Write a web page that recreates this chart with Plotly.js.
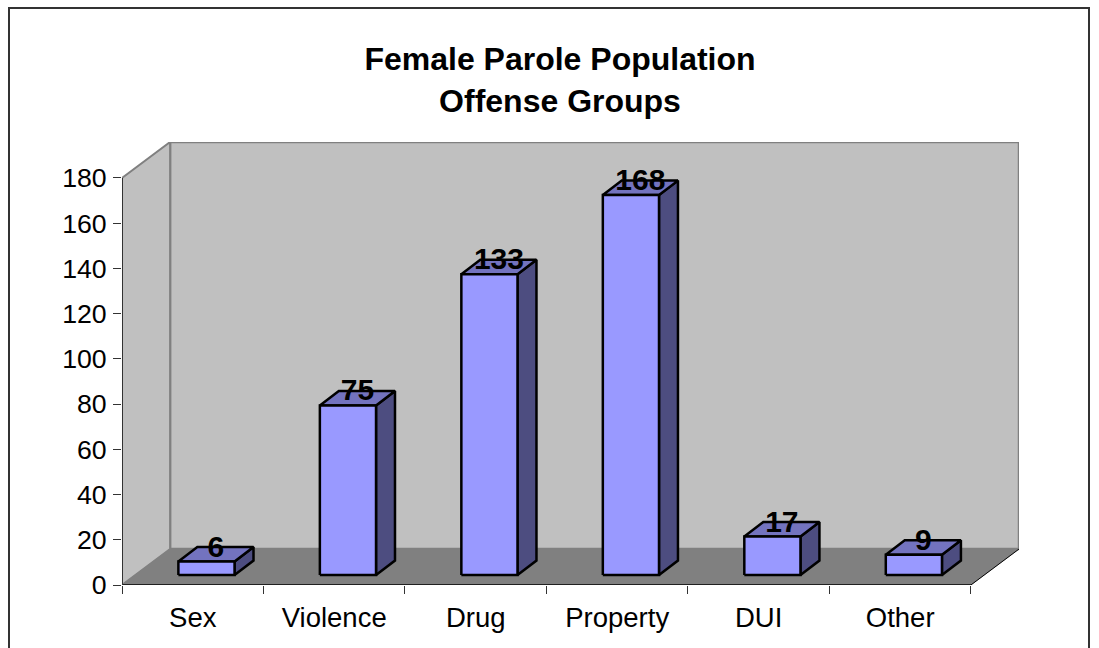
<!DOCTYPE html>
<html><head><meta charset="utf-8">
<script src="https://cdn.plot.ly/plotly-3.0.1.min.js"></script>
<style>html,body{margin:0;padding:0;background:#fff}#c{width:1099px;height:648px}</style>
</head><body><div id="c"></div>
<script>
const categories = ["Sex","Violence","Drug","Property","DUI","Other"];
const values = [6,75,133,168,17,9];
const yTicks = [0,20,40,60,80,100,120,140,160,180];
const titleLines = ["Female Parole Population","Offense Groups"];

const FONT = '"Liberation Sans", Arial, sans-serif';
const n = categories.length, yMax = yTicks[yTicks.length-1];
// 3D projection, in axis units
const wallDx = 0.34, wallDy = 15.9;      // depth of the whole chart box
const barDx = 0.134, barDy = 6.4;        // depth of one bar
const barW = 0.397, barShiftX = 0.097, barShiftY = 4.42; // bar placement on floor

function poly(xs, ys, fill, lineColor, lineWidth){
  return {type:'scatter',mode:'lines',x:xs,y:ys,fill:'toself',fillcolor:fill,
    line:{color:lineColor,width:lineWidth,shape:'linear'},hoverinfo:'skip',showlegend:false,cliponaxis:false};
}
function seg(xs, ys, color, width){
  return {type:'scatter',mode:'lines',x:xs,y:ys,line:{color:color,width:width},hoverinfo:'skip',showlegend:false,cliponaxis:false};
}
const GRAY='#808080', WALL='#c0c0c0';
const traces = [
  poly([wallDx,n+wallDx,n+wallDx,wallDx,wallDx],[wallDy,wallDy,yMax+wallDy,yMax+wallDy,wallDy],WALL,GRAY,2.5),
  poly([0,wallDx,wallDx,0,0],[0,wallDy,yMax+wallDy,yMax,0],WALL,GRAY,2),
  poly([0,n,n+wallDx,wallDx,0],[0,0,wallDy,wallDy,0],GRAY,GRAY,0.5),
  seg([n,n+wallDx],[0,wallDy],'#000',1),
  seg([0,n],[0,0],'#000',1.5),
  seg([0,0],[0,yMax],'#333',2)
];
const join=(f)=>values.flatMap((v,i)=>[...f(v,i),null]);
const L=i=>i+0.5+barShiftX-barW/2, R=i=>L(i)+barW, B=barShiftY;
const OUT='#000', OW=2.5;
traces.push(poly(
  join((v,i)=>[R(i),R(i)+barDx,R(i)+barDx,R(i),R(i)]),
  join((v,i)=>[B,B+barDy,B+v+barDy,B+v,B]),'#4d4d80',OUT,OW));
traces.push(poly(
  join((v,i)=>[L(i),R(i),R(i)+barDx,L(i)+barDx,L(i)]),
  join((v,i)=>[B+v,B+v,B+v+barDy,B+v+barDy,B+v]),'#7373bf',OUT,OW));
traces.push(poly(
  join((v,i)=>[L(i),R(i),R(i),L(i),L(i)]),
  join((v,i)=>[B,B,B+v,B+v,B]),'#9999ff',OUT,OW));
traces.push({type:'scatter',mode:'text',
  x:values.map((v,i)=>L(i)+barW/2+barDx/2),
  y:values.map(v=>B+v+barDy-0.9),
  text:values.map(String),textposition:'middle center',
  textfont:{family:FONT,size:30,color:'#000',weight:700},
  hoverinfo:'skip',showlegend:false,cliponaxis:false});

const W=1099,H=648,ml=122,mr=80,mt=142,mb=63, pw=W-ml-mr, ph=H-mt-mb;
const layout = {
  width:W,height:H,margin:{l:ml,r:mr,t:mt,b:mb,pad:0},
  paper_bgcolor:'#fff',plot_bgcolor:'rgba(0,0,0,0)',showlegend:false,hovermode:false,
  font:{family:FONT,color:'#000'},
  title:{text:'<b>'+titleLines.join('<br>')+'</b>',font:{family:FONT,size:32,color:'#000'},
    x:560/W,xanchor:'center',y:1-70/H,yanchor:'top'},
  xaxis:{range:[0,n+wallDx],fixedrange:true,showgrid:false,zeroline:false,showline:false,
    tickmode:'array',tickvals:categories.map((c,i)=>i+0.5),ticktext:categories,ticks:'',
    ticklabelstandoff:13,tickfont:{family:FONT,size:27.5,color:'#000'},
    minor:{tickmode:'array',tickvals:categories.map((c,i)=>i).concat([n]),ticks:'outside',ticklen:8,tickwidth:1,tickcolor:'#333',showgrid:false}},
  yaxis:{range:[0,yMax+wallDy],fixedrange:true,showgrid:false,zeroline:false,showline:false,
    tickmode:'array',tickvals:yTicks,ticks:'outside',ticklen:8,tickwidth:1,tickcolor:'#333',
    ticklabelstandoff:1,tickfont:{family:FONT,size:26.7,color:'#000'}},
  shapes:[{type:'rect',xref:'paper',yref:'paper',
    x0:(9-ml)/pw,x1:(1089-ml)/pw,y0:-(660-(mt+ph))/ph,y1:(mt+ph-8)/ph,
    line:{color:'#333',width:2},fillcolor:'rgba(0,0,0,0)',layer:'below'}]
};
Plotly.newPlot('c',traces,layout,{displayModeBar:false,staticPlot:true});
</script></body></html>
